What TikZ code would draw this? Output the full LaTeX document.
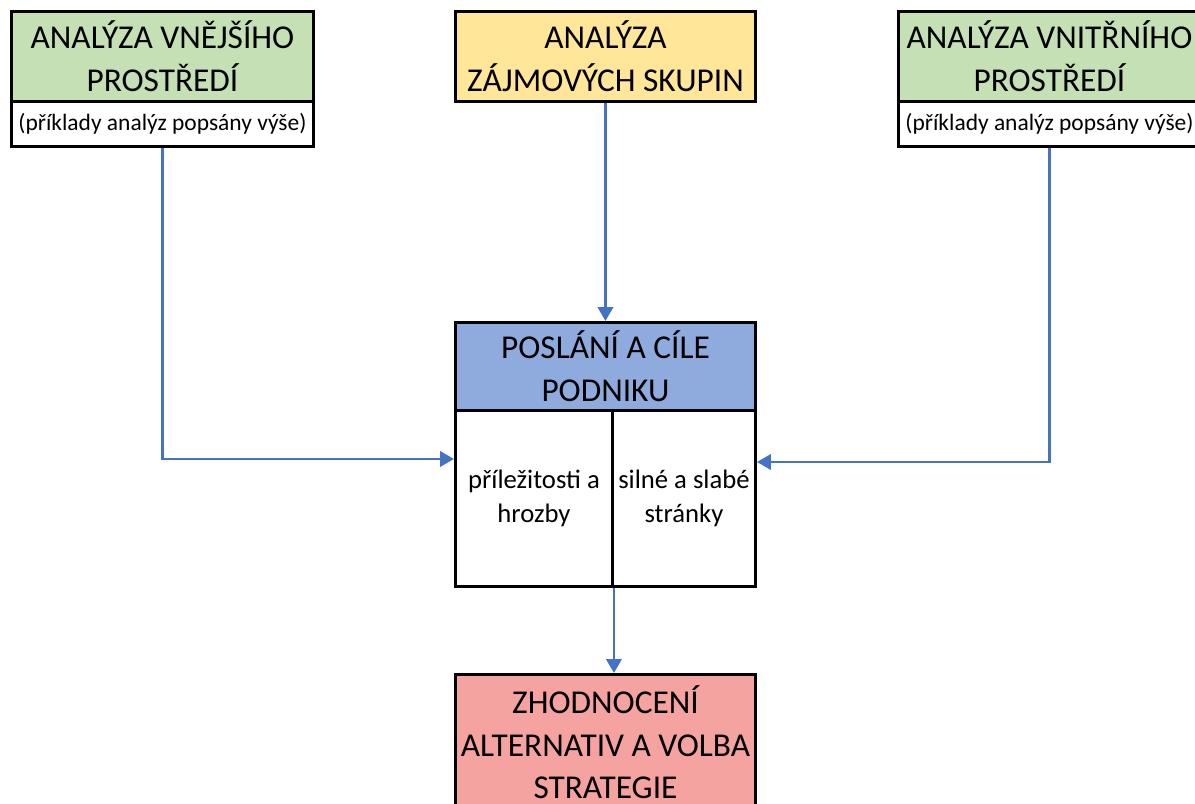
\documentclass[tikz,border=0pt]{standalone}
\usepackage{fontspec}
\setmainfont{Carlito}
\usetikzlibrary{arrows.meta}
\definecolor{boxgreen}{HTML}{C5E0B4}
\definecolor{boxyellow}{HTML}{FFE699}
\definecolor{boxblue}{HTML}{8FAADC}
\definecolor{boxred}{HTML}{F4A3A0}
\definecolor{arrowblue}{HTML}{4472C4}
\tikzset{
  cell/.style={draw=black, line width=2.2pt, inner sep=0pt, anchor=north west, align=center},
  big/.style={font=\fontsize{25}{32}\selectfont},
  small/.style={font=\fontsize{17.6}{21}\selectfont},
  mid/.style={font=\fontsize{20}{26}\selectfont},
  flow/.style={draw=arrowblue, line width=2.1pt, -{Triangle[width=11.5pt,length=10.5pt]}}
}
\begin{document}
\begin{tikzpicture}[x=0.75pt,y=-0.75pt]
  \useasboundingbox (0,0) rectangle (1195,803);

  % external environment
  \node[cell, big, fill=boxgreen, minimum width=226.5pt, minimum height=67.5pt] (vnej) at (10,10)
    {ANALÝZA VNĚJŠÍHO\\PROSTŘEDÍ};
  \node[cell, small, fill=white, minimum width=226.5pt, minimum height=33.75pt] (vnejx) at (10,100)
    {(příklady analýz popsány výše)};

  % stakeholders
  \node[cell, big, fill=boxyellow, minimum width=225pt, minimum height=67.5pt] (zaj) at (454,10)
    {ANALÝZA\\ZÁJMOVÝCH SKUPIN};

  % internal environment
  \node[cell, big, fill=boxgreen, minimum width=226.5pt, minimum height=67.5pt] (vnit) at (897,10)
    {ANALÝZA VNITŘNÍHO\\PROSTŘEDÍ};
  \node[cell, small, fill=white, minimum width=226.5pt, minimum height=33.75pt] (vnitx) at (897,100)
    {(příklady analýz popsány výše)};

  % mission and goals
  \node[cell, big, fill=boxblue, minimum width=225pt, minimum height=66pt] (posl) at (454,321)
    {POSLÁNÍ A CÍLE\\PODNIKU};
  \node[cell, mid, fill=white, minimum width=117.75pt, minimum height=132pt] (opp) at (454,409)
    {příležitosti a\\hrozby};
  \node[cell, mid, fill=white, minimum width=107.25pt, minimum height=132pt] (sw) at (611,409)
    {silné a slabé\\stránky};

  % strategy choice
  \node[cell, big, fill=boxred, minimum width=225pt, minimum height=102pt] (strat) at (454,673)
    {ZHODNOCENÍ\\ALTERNATIV A VOLBA\\STRATEGIE};

  % connectors
  \coordinate (lturn) at (0,459);
  \coordinate (rturn) at (0,462);
  \draw[flow] (vnejx.south) |- (opp.west |- lturn);
  \draw[flow] (vnitx.south) |- (sw.east |- rturn);
  \draw[flow] (zaj.south) -- (posl.north);
  \draw[flow] (opp.south east) -- (opp.south east |- strat.north);
\end{tikzpicture}
\end{document}
